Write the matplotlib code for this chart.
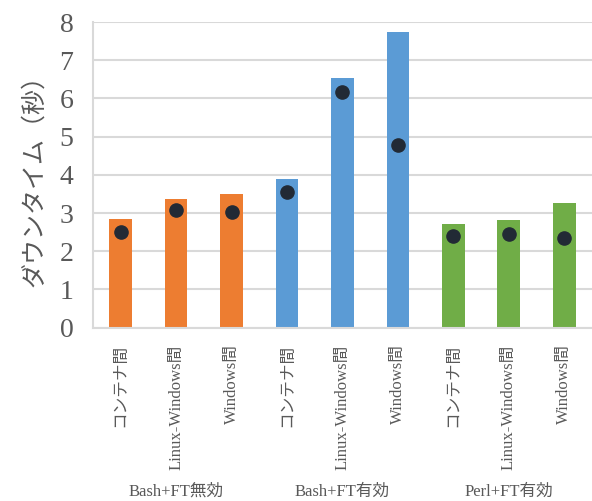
import numpy as np
import matplotlib
matplotlib.use('Agg')
import matplotlib.pyplot as plt
import matplotlib.transforms as mtransforms

plt.rcParams['font.family'] = ['Liberation Serif', 'Noto Sans CJK JP']

# データ
groups = ['Bash+FT無効', 'Bash+FT有効', 'Perl+FT有効']
categories = ['コンテナ間', 'Linux-Windows間', 'Windows間']
bar_values = [2.85, 3.37, 3.50, 3.90, 6.54, 7.74, 2.72, 2.82, 3.27]
dot_values = [2.51, 3.07, 3.02, 3.54, 6.16, 4.77, 2.40, 2.46, 2.34]
group_colors = ['#ED7D31', '#5B9BD5', '#70AD47']

text_color = '#595959'
grid_color = '#D9D9D9'

fig = plt.figure(figsize=(5.92, 5.01), dpi=100)
ax = fig.add_axes([0.157, 0.346, 0.843, 0.61])

n_cat = len(categories)
x = np.arange(len(bar_values))
colors = [group_colors[i // n_cat] for i in range(len(bar_values))]

ax.bar(x, bar_values, width=0.41, color=colors, zorder=2)
ax.plot(x, dot_values, 'o', color='#222A35', markersize=9.5, zorder=3)

ax.set_xlim(-0.5, len(bar_values) - 0.5)
ax.set_ylim(0, 8)
ax.set_yticks(np.arange(0, 9, 1))
ax.yaxis.grid(True, color=grid_color, linewidth=1.5, zorder=0)
ax.set_axisbelow(True)

ax.set_xticks(x)
ax.set_xticklabels(categories * len(groups), rotation=90, fontsize=12,
                   color=text_color, va='top')
ax.tick_params(axis='x', length=0, pad=12)
ax.tick_params(axis='y', length=0, pad=14, labelsize=20, labelcolor=text_color)

for side in ['top', 'right']:
    ax.spines[side].set_visible(False)
ax.spines['left'].set_color(grid_color)
ax.spines['left'].set_linewidth(1.5)
ax.spines['bottom'].set_color(grid_color)
ax.spines['bottom'].set_linewidth(1.5)

ax.set_ylabel('ダウンタイム（秒）', fontsize=18, color=text_color, labelpad=10)

# グループ名
trans = mtransforms.blended_transform_factory(ax.transData, fig.transFigure)
for i, g in enumerate(groups):
    center = x[i * n_cat:(i + 1) * n_cat].mean()
    ax.text(center, 0.018, g, transform=trans, ha='center', va='center',
            fontsize=12, color=text_color)

fig.savefig('out.png', dpi=100)
